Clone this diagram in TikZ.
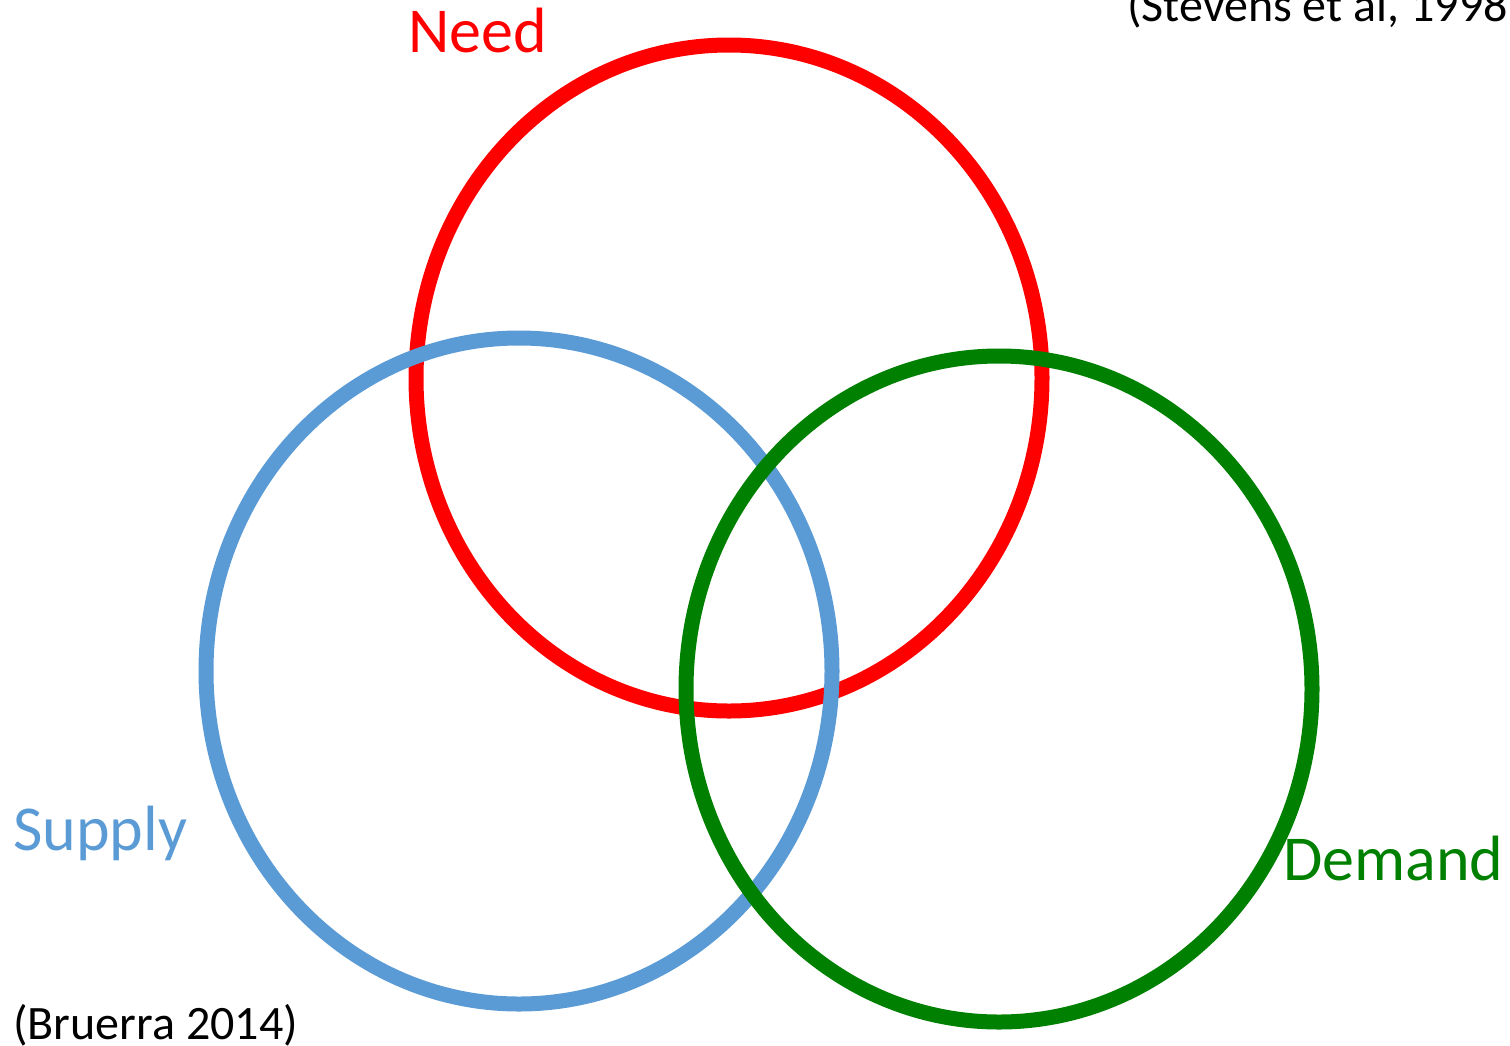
\documentclass[tikz,border=0pt]{standalone}
\usepackage{fontspec}
\setmainfont{Carlito}
\definecolor{needred}{HTML}{FF0000}
\definecolor{supblue}{HTML}{5B9BD5}
\definecolor{demgreen}{HTML}{008000}
\begin{document}
\begin{tikzpicture}[x=1pt,y=-1pt,
  ring/.style={line width=15pt},
  biglabel/.style={anchor=base west,inner sep=0pt,font=\fontsize{64}{64}\selectfont},
  cite/.style={anchor=base west,inner sep=0pt,font=\fontsize{48}{48}\selectfont,text=black}]
\useasboundingbox (0,0) rectangle (1510,1045);
\begin{scope}
\clip (0,0) rectangle (1510,1045);
\draw[ring,needred] (729,378) ellipse [x radius=313, y radius=333];
\draw[ring,supblue] (519,671) ellipse [x radius=313, y radius=333];
\draw[ring,demgreen] (999,689) ellipse [x radius=313, y radius=333];
\node[biglabel,text=needred] (need) at (408,52) {Need};
\node[biglabel,text=supblue] (supply) at (13,850) {Supply};
\node[biglabel,text=demgreen] (demand) at (1283,880) {Demand};
\node[cite] (bruerra) at (13,1039) {(Bruerra 2014)};
\node[cite] (stevens) at (1127,21) {(Stevens et al, 1998};
\end{scope}
\end{tikzpicture}
\end{document}
